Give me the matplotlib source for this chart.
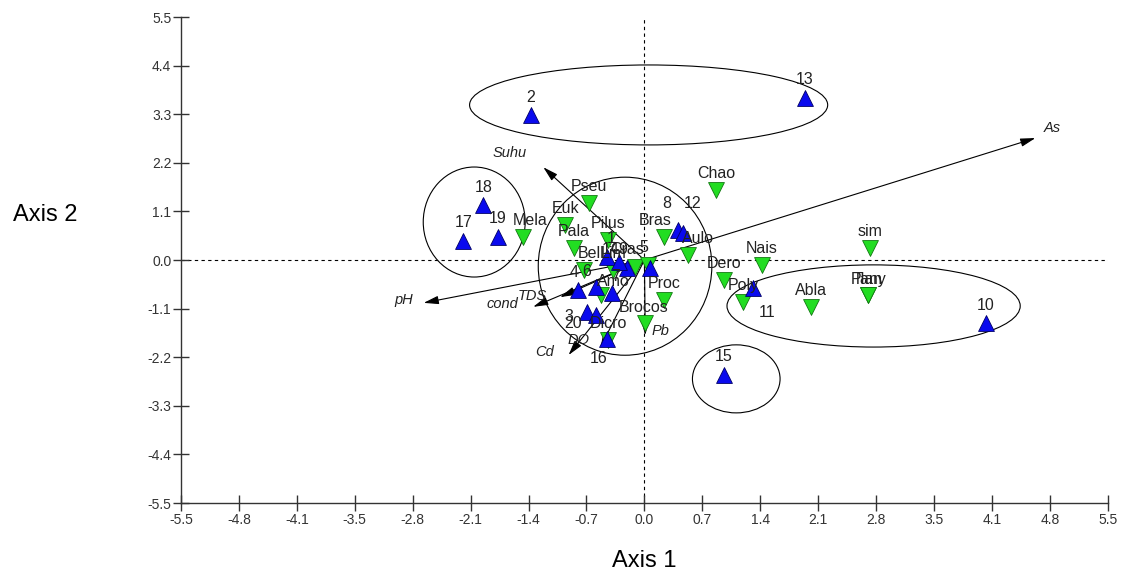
import matplotlib.pyplot as plt
import numpy as np
from matplotlib.patches import Ellipse

plt.rcParams['font.family'] = ['Liberation Sans', 'DejaVu Sans']

# sites (blue, up triangles)
site_names = ['1', '2', '3', '4', '5', '6', '7', '8', '9', '10',
              '11', '12', '13', '14', '15', '16', '17', '18', '19', '20']
site_x = [-0.44, -1.35, -0.68, -0.79, 0.07, -0.57, -0.38, 0.40, -0.21, 4.05,
          1.29, 0.46, 1.90, -0.30, 0.94, -0.45, -2.15, -1.91, -1.74, -0.58]
site_y = [0.07, 3.28, -1.18, -0.68, -0.18, -0.61, -0.75, 0.68, -0.18, -1.43,
          -0.63, 0.61, 3.67, -0.05, -2.60, -1.78, 0.43, 1.24, 0.52, -1.25]

# species (green, down triangles)
spec_names = ['Pseu', 'Euk', 'Pala', 'Pilus', 'Mela', 'Bras', 'Aulo', 'Chao',
              'Dero', 'Nais', 'Poly', 'Abla', 'sim', 'Plan', 'Tany', 'Bell',
              'Lim', 'Cras', '', 'Amo', 'Proc', 'Brocos', 'Dicro']
spec_x = [-0.66, -0.94, -0.84, -0.43, -1.44, 0.23, 0.52, 0.85,
          0.94, 1.39, 1.17, 1.98, 2.68, 2.65, 2.65, -0.72,
          -0.37, -0.11, 0.04, -0.52, 0.23, 0.01, -0.43]
spec_y = [1.29, 0.79, 0.27, 0.45, 0.52, 0.52, 0.11, 1.58,
          -0.45, -0.11, -0.95, -1.06, 0.27, -0.79, -0.79, -0.23,
          -0.23, -0.16, -0.11, -0.79, -0.90, -1.43, -1.81]

# environmental vectors
env_names = ['As', 'Suhu', 'pH', 'TDS', 'cond', 'Cd', 'DO', 'Pb']
env_x = [4.64, -1.20, -2.62, -1.00, -1.32, -0.90, -0.52, 0.01]
env_y = [2.76, 2.10, -0.97, -0.84, -1.06, -2.15, -1.97, -1.70]

# group ellipses: centre x, centre y, width, height
ell_x = [0.05, -2.02, -0.23, 2.72, 1.09]
ell_y = [3.51, 0.86, -0.14, -1.04, -2.69]
ell_w = [4.25, 1.21, 2.06, 3.48, 1.04]
ell_h = [1.81, 2.49, 4.03, 1.86, 1.54]

x_ticklabels = ['-5.5', '-4.8', '-4.1', '-3.5', '-2.8', '-2.1', '-1.4', '-0.7', '0.0',
                '0.7', '1.4', '2.1', '2.8', '3.5', '4.1', '4.8', '5.5']

# label offsets in points (default: above the marker)
site_off = {'3': (-13, -3), '20': (-16, -6), '16': (-6, -14), '11': (10, -18),
            '5': (-5, 15), '8': (-8, 19), '12': (7, 21), '4': (-3, 13),
            '6': (-7, 11), '7': (2, 12), '9': (-3, 13), '14': (-6, 9), '1': (3, 13)}
spec_off = {'Mela': (5, 12), 'Bras': (-6, 12), 'Aulo': (7, 12), 'Amo': (9, 10),
            'Bell': (5, 12), 'Cras': (-6, 13), 'Plan': (-1, 11), 'Tany': (1, 11),
            'Brocos': (-1, 11)}
env_off = {'As': (12, 7), 'Suhu': (-24, 10), 'pH': (-14, 2), 'TDS': (-20, 1),
           'cond': (-22, 2), 'Cd': (-17, 2), 'DO': (-16, 5), 'Pb': (11, 3)}

fig = plt.figure(figsize=(11.27, 5.83), dpi=100)
ax = fig.add_axes([0.1606, 0.1372, 0.983 - 0.1606, 0.9708 - 0.1372])
ax.set_xlim(-5.5, 5.5)
ax.set_ylim(-5.5, 5.5)

for s in ['top', 'right']:
    ax.spines[s].set_visible(False)
for s in ['left', 'bottom']:
    ax.spines[s].set_color('#333333')
    ax.spines[s].set_linewidth(1.0)

ax.set_xticks(np.linspace(-5.5, 5.5, 17))
ax.set_xticklabels(x_ticklabels)
yt = np.linspace(-5.5, 5.5, 11)
ax.set_yticks(yt)
ax.set_yticklabels(['%.1f' % v for v in yt])
ax.tick_params(direction='inout', length=12, width=1.0, color='#333333',
               labelsize=10, labelcolor='#333333', pad=1)

ax.axhline(0, color='black', lw=0.8, ls=(0, (3, 3)), zorder=1)
ax.axvline(0, color='black', lw=0.8, ls=(0, (3, 3)), zorder=1)

for cx, cy, w, h in zip(ell_x, ell_y, ell_w, ell_h):
    ax.add_patch(Ellipse((cx, cy), w, h, fill=False, ec='black', lw=0.8, zorder=2))

for name, ex, ey in zip(env_names, env_x, env_y):
    ax.annotate('', xy=(ex, ey), xytext=(0, 0),
                arrowprops=dict(arrowstyle='-|>,head_length=0.9,head_width=0.25',
                                color='black', lw=0.8, shrinkA=0, shrinkB=0),
                zorder=3)
    ax.annotate(name, (ex, ey), xytext=env_off.get(name, (0, 10)),
                textcoords='offset points', ha='center', va='center',
                fontsize=10.5, style='italic', color='#222222', zorder=6)

ax.scatter(spec_x, spec_y, marker='v', s=130, c='#22dd22', edgecolors='#117711',
           linewidths=0.6, zorder=4)
ax.scatter(site_x, site_y, marker='^', s=130, c='#0a0aee', edgecolors='#000066',
           linewidths=0.6, zorder=5)

for name, sx, sy in zip(spec_names, spec_x, spec_y):
    if name:
        ax.annotate(name, (sx, sy), xytext=spec_off.get(name, (0, 12)),
                    textcoords='offset points', ha='center', va='center',
                    fontsize=11.5, color='#222222', zorder=6)

for name, sx, sy in zip(site_names, site_x, site_y):
    ax.annotate(name, (sx, sy), xytext=site_off.get(name, (0, 13)),
                textcoords='offset points', ha='center', va='center',
                fontsize=11.5, color='#222222', zorder=6)

fig.text(0.0115, 0.631, 'Axis 2', fontsize=17, va='center', ha='left')
fig.text(0.572, 0.037, 'Axis 1', fontsize=17, va='center', ha='center')

fig.savefig('out.png', dpi=100)
